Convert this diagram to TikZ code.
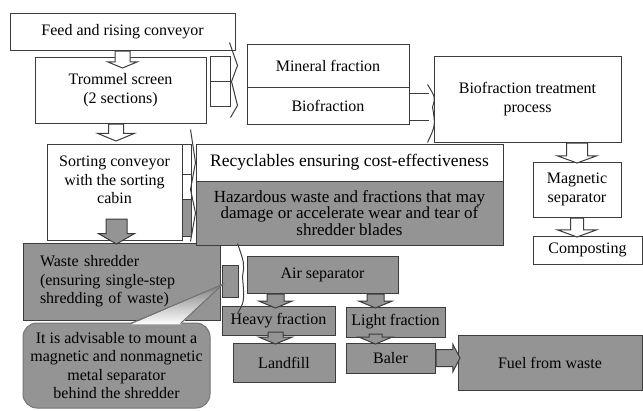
\documentclass[tikz,border=0pt]{standalone}
\usepackage{fontspec}
\setmainfont{Liberation Serif}
\usetikzlibrary{shapes.arrows, calc}

\definecolor{shade}{RGB}{148,148,148}
\definecolor{edge}{RGB}{60,60,60}

\begin{document}
\begin{tikzpicture}[x=1pt, y=-1pt, font=\fontsize{16}{18.5}\selectfont]
    \tikzstyle{stage} = [rectangle, draw=edge, line width=1pt, fill=white, align=center, inner sep=2pt]
    \tikzstyle{waste} = [stage, fill=shade]
    \tikzstyle{flow} = [single arrow, draw=edge, line width=1pt, fill=white, anchor=tail, inner xsep=0pt, inner ysep=7pt, single arrow head extend=7pt, single arrow tip angle=135]
    \tikzstyle{flowgrey} = [flow, fill=shade]
    \tikzstyle{line} = [draw=edge, line width=1pt]

    \useasboundingbox (0,0) rectangle (643,410);

    % left column
    \node [stage, minimum width=225pt, minimum height=37pt] (feed) at (122.5,31.5) {Feed and rising conveyor};
    \node [stage, minimum width=171pt, minimum height=66pt] (trommel) at (120.5,90) {Trommel screen\\(2 sections)};
    \node [stage, minimum width=135pt, minimum height=96pt, label={[align=center, anchor=north, yshift=-9pt]north:Sorting conveyor\\with the sorting\\cabin}] (sorting) at (114.5,192) {};
    \node [waste, minimum width=197pt, minimum height=77pt, text width=163pt, inner xsep=17pt, align=left] (shredder) at (121.5,281.5) {Waste shredder\\(ensuring single-step\\shredding of waste)};

    % fractions and biofraction line
    \node [stage, minimum width=162pt, minimum height=43pt] (mineral) at (328,65.5) {Mineral fraction};
    \node [stage, minimum width=162pt, minimum height=37pt] (bio) at (328,105.5) {Biofraction};
    \node [stage, minimum width=187pt, minimum height=86pt] (treatment) at (527.5,99) {Biofraction treatment\\process};
    \node [stage, minimum width=88pt, minimum height=55pt] (magnetic) at (577,189.5) {Magnetic\\separator};
    \node [stage, minimum width=109pt, minimum height=28pt] (composting) at (587.5,250) {Composting};
    \node [stage, minimum width=307pt, minimum height=37pt, font=\fontsize{17.5}{19}\selectfont] (recyclables) at (349.5,162.5) {Recyclables ensuring cost-effectiveness};
    \node [waste, minimum width=307pt, minimum height=64pt, font=\fontsize{17}{16.5}\selectfont] (hazardous) at (349.5,213) {Hazardous waste and fractions that may\\damage or accelerate wear and tear of\\shredder blades};

    % shredded stream
    \node [waste, minimum width=151pt, minimum height=37pt] (air) at (322.5,274.5) {Air separator};
    \node [waste, minimum width=113pt, minimum height=29pt, inner sep=0pt] (heavy) at (278.5,320.5) {Heavy fraction};
    \node [waste, minimum width=99pt, minimum height=30pt, inner sep=0pt] (light) at (395.5,322) {Light fraction};
    \node [waste, minimum width=102pt, minimum height=39pt] (landfill) at (284,362.5) {Landfill};
    \node [waste, minimum width=89pt, minimum height=30pt] (baler) at (390.5,358) {Baler};
    \node [waste, minimum width=184pt, minimum height=55pt] (fuel) at (550,362.5) {Fuel from waste};

    % callout
    \node [waste, draw=black!55, rounded corners=14pt, minimum width=187pt, minimum height=85pt] (callout) at (116.5,365.5) {It is advisable to mount a\\magnetic and nonmagnetic\\metal separator\\behind the shredder};

    % block arrows
    \node [flow, rotate=-90, minimum height=17pt] (f1) at (feed.south) {};
    \node [flow, rotate=-90, minimum height=17pt, single arrow head extend=11pt] (f2) at ($(trommel.south)+(-4.5,0)$) {};
    \node [flow, rotate=-90, minimum height=20pt, inner ysep=10pt, single arrow head extend=9pt, single arrow tip angle=140] (f3) at (magnetic.north |- treatment.south) {};
    \node [flow, rotate=-90, minimum height=19pt, inner ysep=6pt, single arrow head extend=13pt, single arrow tip angle=140] (f4) at (magnetic.south) {};
    \node [flowgrey, rotate=-90, minimum height=25pt, inner ysep=10pt, single arrow head extend=7.5pt, single arrow tip angle=120] (f5) at ($(sorting.south)+(2,-22)$) {};
    \node [flowgrey, rotate=-90, minimum height=14pt, inner ysep=8pt, single arrow head extend=8pt] (f6) at ($(air.south)+(-47,0)$) {};
    \node [flowgrey, rotate=-90, minimum height=14pt, inner ysep=8pt, single arrow head extend=8pt] (f7) at ($(air.south)+(53,0)$) {};
    \node [flowgrey, rotate=-90, minimum height=12pt, inner ysep=7pt, single arrow head extend=9pt] (f8) at ($(f6.tip |- heavy.south)+(0,-4)$) {};
    \node [flowgrey, rotate=-90, minimum height=10pt, inner ysep=6pt, single arrow head extend=10pt] (f9) at ($(f7.tip |- light.south)+(0,-4)$) {};
    \node [flowgrey, minimum height=24pt, inner ysep=8pt, single arrow head extend=5pt, single arrow tip angle=125] (f10) at (baler.east) {};

    % trommel to the two fractions
    \path [line, fill=white] ($(trommel.north east)+(4,0)$) rectangle ($(trommel.north east)+(24,25)$);
    \path [line, fill=white] ($(trommel.north east)+(4,25)$) rectangle ($(trommel.north east)+(24,50)$);
    \path [line] ($(trommel.north east)+(23,-14)$) -- ($(mineral.west)+(-9,0)$) -- ($(trommel.north east)+(25,25)$) -- ($(bio.west)+(-9,0)$) -- ($(trommel.north east)+(24,61)$);

    % sorting conveyor to recyclables and hazardous waste
    \path [line, fill=white] ($(sorting.north east)+(0,1)$) rectangle ($(sorting.north east)+(9,31)$);
    \path [line, fill=white] ($(sorting.north east)+(0,31)$) rectangle ($(sorting.north east)+(9,56)$);
    \path [line, fill=shade] ($(sorting.north east)+(0,56)$) rectangle ($(sorting.north east)+(9,93)$);
    \path [line] ($(sorting.north east)+(8,-14)$) -- (recyclables.west) -- ($(sorting.north east)+(8,46)$) -- (hazardous.west) -- ($(sorting.north east)+(8,98)$);

    % biofraction to treatment
    \path [line] ($(bio.north east)+(0,7)$) -- ++(19,0);
    \path [line] ($(bio.south east)+(0,-4)$) -- ++(19,0);
    \path [line] ($(bio.east)+(18,-21)$) .. controls ($(bio.east)+(26,-8)$) .. ($(treatment.west)+(-1,8)$) .. controls ($(bio.east)+(26,20)$) .. ($(bio.east)+(18,37)$);

    % shredder to air separator
    \path [line, fill=shade] ($(shredder.east)+(2,-16)$) rectangle ($(shredder.east)+(18,16)$);
    \path [line] ($(shredder.east)+(17,-38)$) .. controls ($(shredder.east)+(24,-18)$) .. ($(air.west)+(-4,2)$) .. controls ($(shredder.east)+(24,20)$) .. ($(shredder.east)+(17,32)$);

    % callout pointer
    \fill [shade] ($(callout.north)+(14,2)$) -- ($(shredder.east)+(2,3)$) -- ($(callout.north)+(64,2)$) -- cycle;
    \path [draw=black!55, line width=1pt] ($(callout.north)+(14,1)$) -- ($(shredder.east)+(2,3)$) -- ($(callout.north)+(64,1)$);
\end{tikzpicture}
\end{document}
